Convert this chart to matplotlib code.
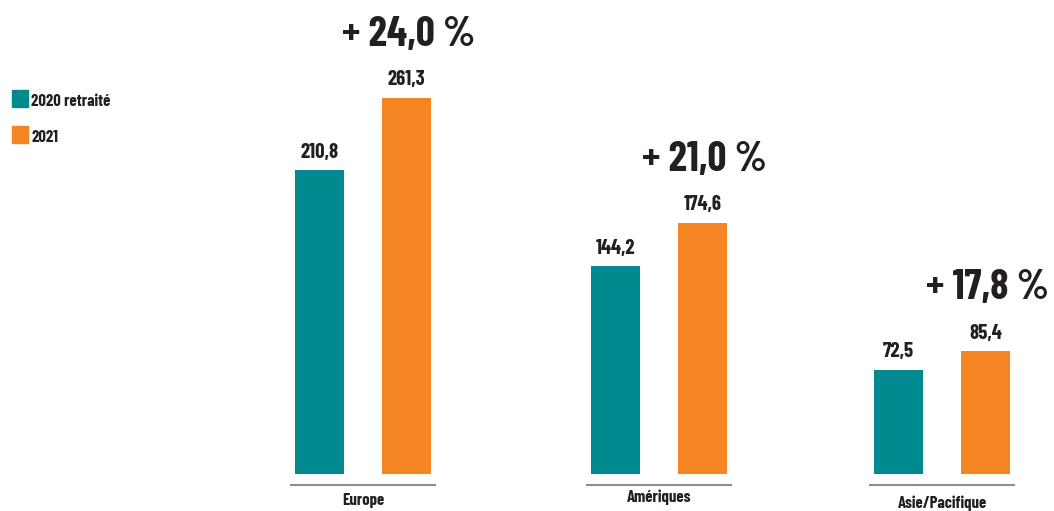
import matplotlib
matplotlib.use('Agg')
import matplotlib.pyplot as plt

# data
regions = ['Europe', 'Amériques', 'Asie/Pacifique']
values_2020 = [210.8, 144.2, 72.5]
values_2021 = [261.3, 174.6, 85.4]
growth = ['+ 24,0 %', '+ 21,0 %', '+ 17,8 %']
series_labels = ['2020 retraité', '2021']

TEAL = '#008A8F'
ORANGE = '#F58423'
TEXT = '#231F20'

plt.rcParams['font.family'] = ['Barlow Condensed', 'DejaVu Sans']

W, H = 1054, 511
fig = plt.figure(figsize=(W / 100, H / 100), dpi=100)
ax = fig.add_axes([0, 0, 1, 1])

# layout (pixel x positions of group centers, pixels per unit)
centers = [363, 659, 942]
half_gap = 43.5
bar_w = 49
base_px = 474
scale = 1.44
ax.set_xlim(0, W)
ax.set_ylim(-(H - base_px) / scale, base_px / scale)
ax.axis('off')

label_y = [500, 497, 503]
for i, c in enumerate(centers):
    x1, x2 = c - half_gap, c + half_gap
    ax.bar(x1, values_2020[i], width=bar_w, color=TEAL)
    ax.bar(x2, values_2021[i], width=bar_w, color=ORANGE)
    for x, v in [(x1, values_2020[i]), (x2, values_2021[i])]:
        ax.annotate(f'{v:.1f}'.replace('.', ','), (x, v), xytext=(0, 18),
                    textcoords='offset pixels', ha='center', va='center',
                    fontsize=15, fontweight='bold', color=TEXT)
    ax.annotate(growth[i], (x2, values_2021[i]), xytext=(2, 63),
                textcoords='offset pixels', ha='center', va='center',
                fontsize=30, fontweight='bold', color=TEXT)
    # underline and category label
    yl = -(485 - base_px) / scale
    ax.plot([c - 73, c + 73], [yl, yl], color='#8C8C8C', lw=1.5, solid_capstyle='butt')
    ax.text(c, -(label_y[i] - base_px) / scale, regions[i], ha='center', va='center',
            fontsize=12, fontweight='bold', color=TEXT)

# legend
for j, (lab, col) in enumerate(zip(series_labels, [TEAL, ORANGE])):
    yc = 99 + j * 36
    fig.patches.append(plt.Rectangle((12 / W, 1 - (yc + 8) / H), 16 / W, 17 / H,
                                     transform=fig.transFigure, color=col))
    fig.text(31 / W, 1 - (yc + 2) / H, lab, ha='left', va='center',
             fontsize=12, fontweight='bold', color=TEXT)

fig.savefig('out.png', dpi=100)
